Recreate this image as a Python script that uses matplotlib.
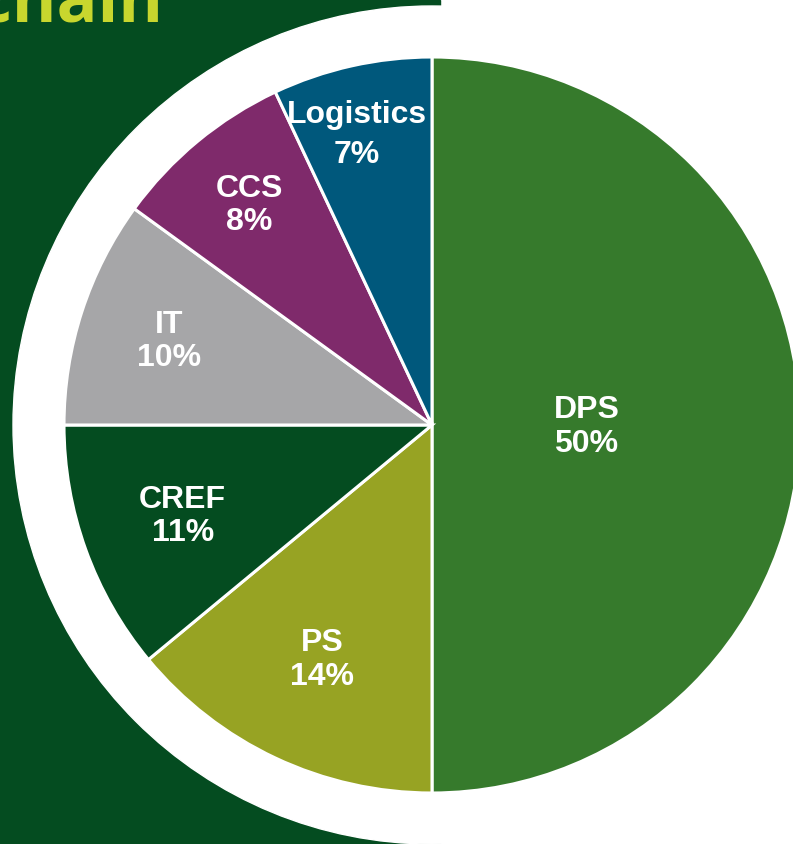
import matplotlib.pyplot as plt
from matplotlib.patches import Circle, Rectangle
import numpy as np

# slice data, clockwise from 12 o'clock
segments = ["DPS", "PS", "CREF", "IT", "CCS", "Logistics"]
shares = [50, 14, 11, 10, 8, 7]
colors = ["#367a2c", "#97a323", "#044c20", "#a6a6a8", "#7f2a6b", "#00587c"]
title_text = "chain"

# label placement: radius as fraction of pie radius, angle nudge in degrees
label_r = [0.42, 0.70, 0.72, 0.75, 0.78, 0.82]
label_dang = [0, 0, 0, 0, 0, 1.8]

W, H = 793, 844
fig = plt.figure(figsize=(W / 100, H / 100), dpi=100)
ax = fig.add_axes([0, 0, 1, 1])

cx, cy, R = 432, H - 425, 368

# dark green panel on the left plus the white ring around the pie
ax.add_patch(Rectangle((0, 0), 440, H, color="#044c20", zorder=0))
ax.add_patch(Circle((cx, cy), 419, color="white", zorder=1))
ax.text(163, H - 22, title_text, color="#c8d62e", fontsize=49,
        fontweight="bold", family="Open Sans", ha="right", va="baseline",
        zorder=2)

wedges, _ = ax.pie(shares, colors=colors, startangle=90, counterclock=False,
                   center=(cx, cy), radius=R, frame=True,
                   wedgeprops=dict(edgecolor="white", linewidth=2.2))
for w in wedges:
    w.set_zorder(3)
ax.set_xlim(0, W)
ax.set_ylim(0, H)
ax.axis("off")

for w, name, val, r, da in zip(wedges, segments, shares, label_r, label_dang):
    mid = np.deg2rad((w.theta1 + w.theta2) / 2 + da)
    x = cx + r * R * np.cos(mid)
    y = cy + r * R * np.sin(mid) - 2
    ls = 1.45 if name == "Logistics" else 1.14
    ax.text(x, y, f"{name}\n{val}%", color="white", fontsize=23,
            fontweight="bold", family="Liberation Sans", ha="center",
            va="center", linespacing=ls, zorder=4)

fig.savefig("out.png", dpi=100)
